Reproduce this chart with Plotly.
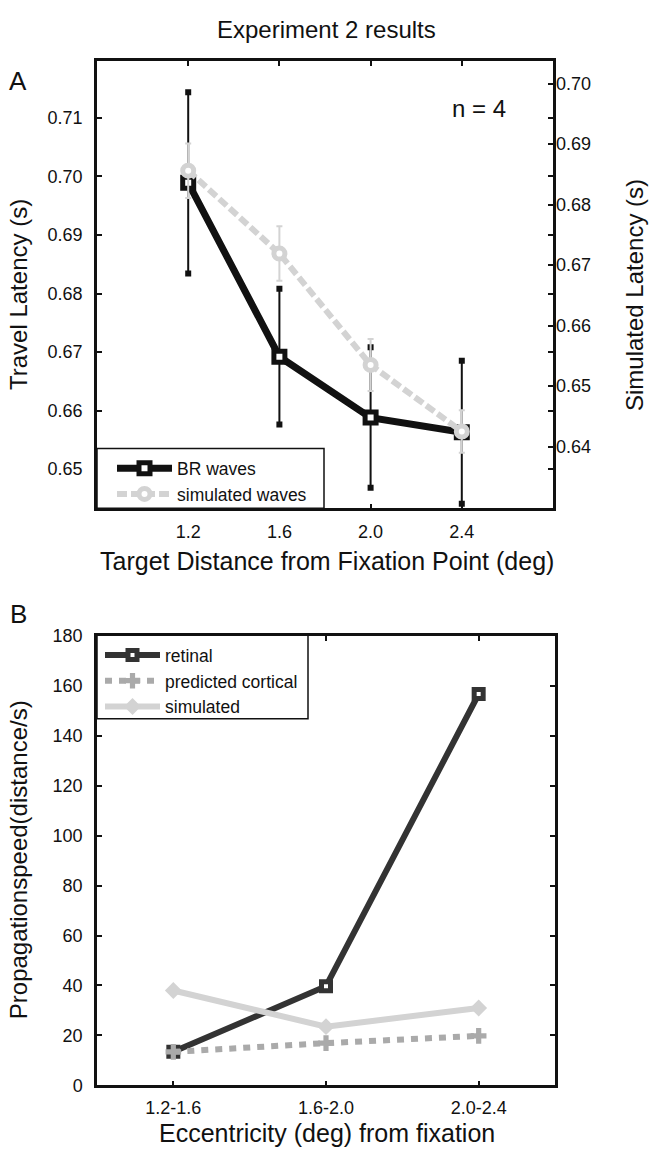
import plotly.graph_objects as go

# ---------------- data ----------------
# Panel A
dist = [1.2, 1.6, 2.0, 2.4]
dist_labels = ["1.2", "1.6", "2.0", "2.4"]
br_latency = [0.6989, 0.6692, 0.6588, 0.6563]
br_err = [0.0155, 0.0116, 0.0120, 0.0122]
sim_latency = [0.6856, 0.6719, 0.6535, 0.6425]
sim_err = [0.0045, 0.0045, 0.0043, 0.0035]
left_ticks_a = [0.65, 0.66, 0.67, 0.68, 0.69, 0.70, 0.71]
right_ticks_a = [0.64, 0.65, 0.66, 0.67, 0.68, 0.69, 0.70]

# Panel B
ecc = ["1.2-1.6", "1.6-2.0", "2.0-2.4"]
retinal = [13.4, 39.7, 156.8]
cortical = [13.4, 16.9, 19.8]
simulated = [38.0, 23.5, 31.0]
speed_ticks = [0, 20, 40, 60, 80, 100, 120, 140, 160, 180]

# ---------------- layout helpers ----------------
W, H = 651, 1170
FONT = "Liberation Sans, Arial, Helvetica, sans-serif"


def px(x):
    return x / W


def py(y):
    return 1 - y / H


BLACK = "#111111"
SIMGRAY = "#d3d3d3"

fig = go.Figure()

# ---- Panel A: BR waves (left axis)
fig.add_trace(go.Scatter(
    x=dist, y=br_latency, name="BR waves", mode="lines+markers",
    line=dict(color=BLACK, width=7),
    marker=dict(symbol="square", size=11, color="white", line=dict(color=BLACK, width=5)),
    error_y=dict(type="data", array=br_err, visible=True, color=BLACK, thickness=2, width=0),
    xaxis="x", yaxis="y", legend="legend",
))
# error-bar end caps (small filled squares)
fig.add_trace(go.Scatter(
    x=dist + dist,
    y=[m + e for m, e in zip(br_latency, br_err)] + [m - e for m, e in zip(br_latency, br_err)],
    mode="markers", marker=dict(symbol="square", size=6, color=BLACK),
    showlegend=False, hoverinfo="skip", xaxis="x", yaxis="y",
))

# ---- Panel A: simulated waves (right axis)
fig.add_trace(go.Scatter(
    x=dist, y=sim_latency, name="simulated waves", mode="lines+markers",
    line=dict(color=SIMGRAY, width=6, dash="10px,4px"),
    marker=dict(symbol="circle", size=11, color="white", line=dict(color=SIMGRAY, width=5)),
    error_y=dict(type="data", array=sim_err, visible=True, color=SIMGRAY, thickness=2, width=3),
    xaxis="x", yaxis="y2", legend="legend",
))

# ---- Panel B
fig.add_trace(go.Scatter(
    x=ecc, y=retinal, name="retinal", mode="lines+markers",
    line=dict(color="#333333", width=6),
    marker=dict(symbol="square", size=9, color="white", line=dict(color="#333333", width=5)),
    xaxis="x2", yaxis="y3", legend="legend2",
))
fig.add_trace(go.Scatter(
    x=ecc, y=cortical, name="predicted cortical", mode="lines+markers",
    line=dict(color="#aaaaaa", width=6, dash="7px,7px"),
    marker=dict(symbol="cross", size=13, color="#aaaaaa"),
    xaxis="x2", yaxis="y3", legend="legend2",
))
fig.add_trace(go.Scatter(
    x=ecc, y=simulated, name="simulated", mode="lines+markers",
    line=dict(color=SIMGRAY, width=6),
    marker=dict(symbol="diamond", size=13, color=SIMGRAY),
    xaxis="x2", yaxis="y3", legend="legend2",
))

axis_common = dict(
    showline=True, linecolor=BLACK, linewidth=2.5, mirror="ticks",
    ticks="inside", ticklen=5, tickwidth=1.5, tickcolor=BLACK,
    showgrid=False, zeroline=False,
    tickfont=dict(family=FONT, size=18, color=BLACK),
)

fig.update_layout(
    width=W, height=H, autosize=False,
    margin=dict(l=0, r=0, t=0, b=0),
    paper_bgcolor="white", plot_bgcolor="white",
    font=dict(family=FONT, color=BLACK),
    xaxis=dict(domain=[px(97), px(553)], range=[0.8, 2.8], anchor="y",
               tickvals=dist, ticktext=dist_labels, ticklabelstandoff=5, **axis_common),
    yaxis=dict(domain=[py(507), py(52)], range=[0.6433, 0.7197], anchor="x",
               tickvals=left_ticks_a, tickformat=".2f", ticklabelstandoff=8, **axis_common),
    yaxis2=dict(overlaying="y", side="right", anchor="x", range=[0.6298, 0.7037],
                tickvals=right_ticks_a, tickformat=".2f", showline=False,
                ticks="inside", ticklen=5, tickwidth=1.5, tickcolor=BLACK,
                showgrid=False, zeroline=False, ticklabelstandoff=2,
                tickfont=dict(family=FONT, size=18, color=BLACK)),
    xaxis2=dict(domain=[px(97), px(555)], anchor="y3", type="category",
                range=[-0.5, 2.5], ticklabelstandoff=4, **axis_common),
    yaxis3=dict(domain=[py(1094), py(637)], range=[0, 180], anchor="x2",
                tickvals=speed_ticks, ticklabelstandoff=8, **axis_common),
    legend=dict(x=px(112), y=py(448), xanchor="left", yanchor="top",
                bgcolor="rgba(0,0,0,0)", borderwidth=0, itemwidth=55,
                font=dict(family=FONT, size=17.5, color=BLACK), tracegroupgap=0),
    legend2=dict(x=px(100), y=py(638), xanchor="left", yanchor="top",
                 bgcolor="rgba(0,0,0,0)", borderwidth=0, itemwidth=55,
                 font=dict(family=FONT, size=17.5, color=BLACK), tracegroupgap=0),
    shapes=[
        dict(type="rect", xref="paper", yref="paper", x0=px(97), x1=px(324), y0=py(507), y1=py(446),
             line=dict(color=BLACK, width=1.5), fillcolor="white", layer="above"),
        dict(type="rect", xref="paper", yref="paper", x0=px(97), x1=px(308), y0=py(721), y1=py(636),
             line=dict(color=BLACK, width=1.5), fillcolor="white", layer="above"),
    ],
    showlegend=True,
)


def ann(text, x, y, size=24, angle=0, xanchor="center"):
    fig.add_annotation(text=text, x=px(x), y=py(y), xref="paper", yref="paper",
                       showarrow=False, textangle=angle, xanchor=xanchor, yanchor="middle",
                       font=dict(family=FONT, size=size, color=BLACK))


ann("Experiment 2 results", 326, 20)
ann("A", 18, 72, size=26)
ann("B", 18, 615, size=26)
ann("n = 4", 479, 100)
ann("Travel Latency (s)", 18, 290, angle=-90)
ann("Simulated Latency (s)", 634, 290, angle=-90)
ann("Target Distance from Fixation Point (deg)", 327, 561, size=25)
ann("Propagationspeed(distance/s)", 18, 865, angle=-90)
ann("Eccentricity (deg) from fixation", 327, 1143, size=25)

fig.write_html("out.html", config={"displayModeBar": False},
               post_script="document.body.style.margin='0';")
